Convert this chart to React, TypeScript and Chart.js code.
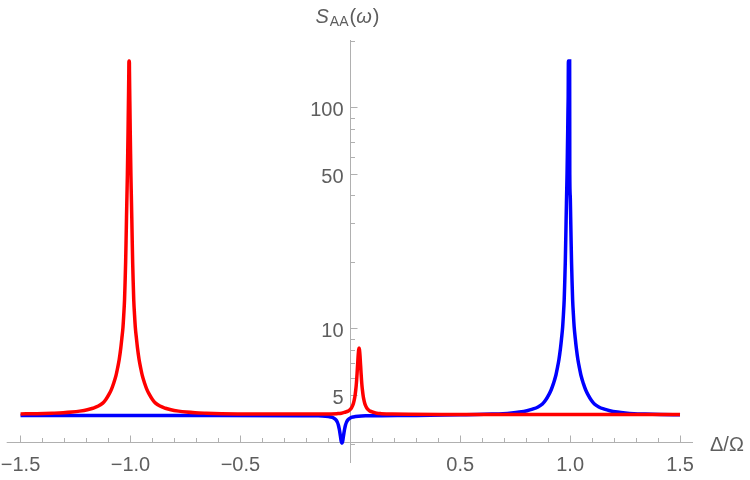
import React, { useEffect, useRef } from "react";
import { Chart, registerables } from "chart.js";

Chart.register(...registerables);

// Red spectrum: strong resonance near Δ/Ω = −1 and a weak peak just right of 0
const redX = [
  -1.5, -1.426, -1.356, -1.306, -1.266, -1.231, -1.196, -1.171, -1.146, -1.126,
  -1.112, -1.096, -1.086, -1.076, -1.066, -1.058, -1.051, -1.044, -1.039, -1.034,
  -1.0305, -1.027, -1.0245, -1.022, -1.02, -1.018, -1.016, -1.014, -1.0125, -1.011,
  -1.0097, -1.0085, -1.0075, -1.007, -1.005, -1.0045, -1.0035, -1.0023, -1.001, -0.9995,
  -0.998, -0.996, -0.994, -0.992, -0.99, -0.9875, -0.985, -0.9815, -0.978, -0.973,
  -0.968, -0.961, -0.954, -0.946, -0.936, -0.926, -0.916, -0.9, -0.886, -0.866,
  -0.841, -0.816, -0.781, -0.746, -0.706, -0.656, -0.586, -0.512, -0.3, -0.11,
  -0.06, -0.04, -0.025, -0.01, -0.002, 0.005, 0.01, 0.015, 0.0185, 0.022,
  0.0245, 0.027, 0.029, 0.031, 0.0325, 0.034, 0.0355, 0.037, 0.0385, 0.04,
  0.0415, 0.043, 0.0445, 0.046, 0.0475, 0.049, 0.051, 0.053, 0.0555, 0.058,
  0.0615, 0.065, 0.07, 0.075, 0.082, 0.09, 0.105, 0.12, 0.14, 0.19,
  0.6, 1.0, 1.5,
];
const redY = [
  4.13, 4.14, 4.16, 4.18, 4.21, 4.25, 4.31, 4.38, 4.48, 4.62,
  4.8, 5.1, 5.35, 5.7, 6.15, 6.7, 7.3, 8.2, 9.1, 10.2,
  11.6, 13.5, 16.2, 20, 25, 32, 40, 50, 62, 78,
  98, 120, 145, 163, 163, 145, 120, 98, 78, 62,
  50, 40, 32, 25, 20, 16.2, 13.5, 11.6, 10.2, 9.1,
  8.2, 7.3, 6.7, 6.15, 5.7, 5.35, 5.1, 4.8, 4.62, 4.48,
  4.38, 4.31, 4.25, 4.21, 4.18, 4.16, 4.14, 4.13, 4.12, 4.12,
  4.14, 4.16, 4.2, 4.25, 4.31, 4.39, 4.49, 4.64, 4.8, 5.03,
  5.27, 5.56, 5.9, 6.31, 6.7, 7.07, 7.5, 7.84, 8.1, 8.2,
  8.1, 7.84, 7.5, 7.07, 6.7, 6.31, 5.9, 5.56, 5.27, 5.03,
  4.8, 4.64, 4.49, 4.39, 4.31, 4.25, 4.2, 4.16, 4.14, 4.12,
  4.1, 4.1, 4.1,
];

// Blue spectrum: narrow dip just left of 0 and strong resonance near Δ/Ω = +1
const blueX = [
  -1.5, -0.6, -0.218, -0.148, -0.113, -0.09, -0.076, -0.066, -0.059, -0.054,
  -0.05, -0.047, -0.044, -0.041, -0.038, -0.035, -0.032, -0.029, -0.026, -0.022,
  -0.017, -0.01, 0.0, 0.014, 0.037, 0.072, 0.142, 0.3, 0.5, 0.574,
  0.644, 0.694, 0.734, 0.769, 0.804, 0.829, 0.854, 0.874, 0.888, 0.904,
  0.914, 0.924, 0.934, 0.942, 0.949, 0.956, 0.961, 0.966, 0.9695, 0.973,
  0.9755, 0.978, 0.98, 0.982, 0.984, 0.986, 0.9875, 0.989, 0.9903, 0.9912,
  0.9922, 0.9978, 0.9985, 1.0005, 1.0025, 1.0045, 1.0065, 1.009, 1.0115, 1.015,
  1.0185, 1.0235, 1.0285, 1.0355, 1.0425, 1.0505, 1.0605, 1.0705, 1.0805, 1.0965,
  1.1105, 1.1305, 1.1555, 1.1805, 1.2155, 1.2505, 1.2905, 1.3405, 1.4105, 1.5,
];
const blueY = [
  4.06, 4.06, 4.055, 4.047, 4.03, 4.0, 3.96, 3.89, 3.79, 3.67,
  3.52, 3.38, 3.23, 3.09, 3.04, 3.09, 3.23, 3.38, 3.52, 3.67,
  3.79, 3.89, 3.96, 4.0, 4.03, 4.047, 4.055, 4.06, 4.09, 4.1,
  4.12, 4.14, 4.17, 4.21, 4.27, 4.34, 4.44, 4.58, 4.76, 5.06,
  5.31, 5.66, 6.11, 6.66, 7.26, 8.16, 9.06, 10.2, 11.6, 13.5,
  16.2, 20, 25, 32, 40, 50, 62, 78, 98, 112,
  163, 163, 50, 40, 32, 25, 20, 16.2, 13.5, 11.6,
  10.2, 9.06, 8.16, 7.26, 6.66, 6.11, 5.66, 5.31, 5.06, 4.76,
  4.58, 4.44, 4.34, 4.27, 4.21, 4.17, 4.14, 4.12, 4.1, 4.09,
];

// Axis ranges, crossing point and tick marks
const xRange = [-1.563, 1.559];
const yRange = [2.476, 203];
const axisCrossY = 3.08;
const xMajorTicks = [-1.5, -1.0, -0.5, 0.5, 1.0, 1.5];
const xTickLabels = ["−1.5", "−1.0", "−0.5", "0.5", "1.0", "1.5"];
const xMinorTicks = [
  -1.4, -1.3, -1.2, -1.1, -0.9, -0.8, -0.7, -0.6, -0.4, -0.3, -0.2, -0.1,
  0.1, 0.2, 0.3, 0.4, 0.6, 0.7, 0.8, 0.9, 1.1, 1.2, 1.3, 1.4,
];
const yMajorTicks = [5, 10, 50, 100];
const yTickLabels = ["5", "10", "50", "100"];
const yMinorTicks = [3, 4, 6, 7, 8, 9, 20, 30, 40, 60, 70, 80, 90, 200];

const toPoints = (xs: number[], ys: number[]) => xs.map((x, i) => ({ x, y: ys[i] }));

const AXIS_COLOR = "#b0b0b0";
const TEXT_COLOR = "#5e5e5e";
const FONT = "'Liberation Sans', Arial, sans-serif";

// Draws Mathematica-style axes crossing inside the plot, with ticks and labels
const crossAxesPlugin = {
  id: "crossAxes",
  beforeDatasetsDraw(chart: any) {
    const { ctx, chartArea, scales } = chart;
    const xs = scales.x;
    const ys = scales.y;
    const snap = (v: number) => Math.floor(v) + 0.5;
    const x0 = snap(xs.getPixelForValue(0));
    const y0 = snap(ys.getPixelForValue(axisCrossY));

    ctx.save();
    ctx.strokeStyle = AXIS_COLOR;
    ctx.lineWidth = 1;
    ctx.beginPath();
    ctx.moveTo(chartArea.left, y0);
    ctx.lineTo(chartArea.right, y0);
    ctx.moveTo(x0, chartArea.top);
    ctx.lineTo(x0, chartArea.bottom);

    xMajorTicks.forEach((v) => {
      const px = snap(xs.getPixelForValue(v));
      ctx.moveTo(px, y0);
      ctx.lineTo(px, y0 - 7);
    });
    xMinorTicks.forEach((v) => {
      const px = snap(xs.getPixelForValue(v));
      ctx.moveTo(px, y0);
      ctx.lineTo(px, y0 - 4.5);
    });
    yMajorTicks.forEach((v) => {
      const py = snap(ys.getPixelForValue(v));
      ctx.moveTo(x0, py);
      ctx.lineTo(x0 + 7, py);
    });
    yMinorTicks.forEach((v) => {
      const py = snap(ys.getPixelForValue(v));
      ctx.moveTo(x0, py);
      ctx.lineTo(x0 + 4.5, py);
    });
    ctx.stroke();

    ctx.fillStyle = TEXT_COLOR;
    ctx.font = `20px ${FONT}`;
    ctx.textBaseline = "alphabetic";
    ctx.textAlign = "center";
    xMajorTicks.forEach((v, i) => {
      ctx.fillText(xTickLabels[i], xs.getPixelForValue(v), y0 + 28);
    });
    ctx.textAlign = "right";
    yMajorTicks.forEach((v, i) => {
      ctx.fillText(yTickLabels[i], x0 - 7, ys.getPixelForValue(v) + 8);
    });

    // horizontal axis label
    ctx.textAlign = "left";
    ctx.fillText("Δ/Ω", chartArea.right + 17, y0 + 8);

    // vertical axis label S_AA(ω)
    let tx = x0 - 35;
    const base = 23;
    ctx.font = `italic 20px ${FONT}`;
    ctx.fillText("S", tx, base);
    tx += ctx.measureText("S").width + 1;
    ctx.font = `14px ${FONT}`;
    ctx.fillText("AA", tx, base + 3);
    tx += ctx.measureText("AA").width + 1;
    ctx.font = `20px ${FONT}`;
    ctx.fillText("(", tx, base);
    tx += ctx.measureText("(").width;
    ctx.font = `italic 20px ${FONT}`;
    ctx.fillText("ω", tx, base);
    tx += ctx.measureText("ω").width + 1;
    ctx.font = `20px ${FONT}`;
    ctx.fillText(")", tx, base);
    ctx.restore();
  },
};

export default function App() {
  const canvasRef = useRef<HTMLCanvasElement | null>(null);

  useEffect(() => {
    if (!canvasRef.current) return;
    const chart = new Chart(canvasRef.current, {
      type: "scatter",
      data: {
        datasets: [
          {
            data: toPoints(redX, redY),
            showLine: true,
            borderColor: "#ff0000",
            borderWidth: 3.5,
            pointRadius: 0,
            cubicInterpolationMode: "monotone",
          },
          {
            data: toPoints(blueX, blueY),
            showLine: true,
            borderColor: "#0000ff",
            borderWidth: 3.5,
            pointRadius: 0,
            cubicInterpolationMode: "monotone",
          },
        ],
      },
      options: {
        responsive: false,
        maintainAspectRatio: false,
        animation: false,
        layout: { padding: { left: 6.7, right: 57, top: 40, bottom: 17 } },
        plugins: { legend: { display: false }, tooltip: { enabled: false } },
        scales: {
          x: { type: "linear", min: xRange[0], max: xRange[1], display: false },
          y: { type: "logarithmic", min: yRange[0], max: yRange[1], display: false },
        },
      },
      plugins: [crossAxesPlugin],
    });
    return () => chart.destroy();
  }, []);

  return (
    <div style={{ position: "absolute", left: 0, top: 0, width: 750, height: 480, background: "#fff" }}>
      <canvas ref={canvasRef} width={750} height={480} />
    </div>
  );
}
